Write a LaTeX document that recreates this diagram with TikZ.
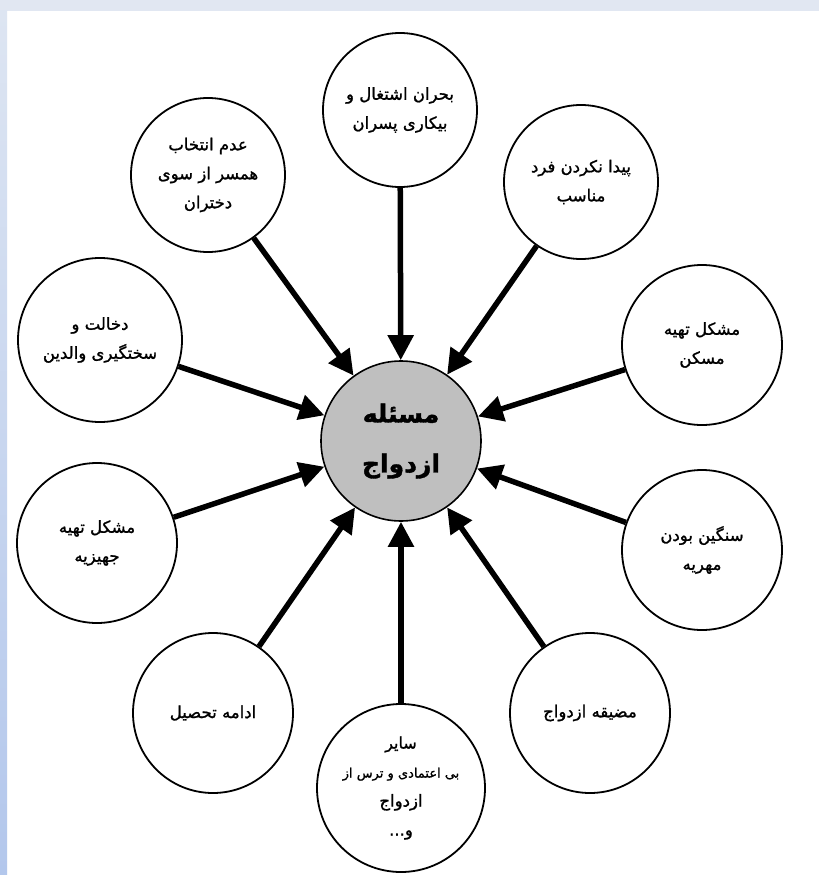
\documentclass[tikz,border=0pt]{standalone}
\usepackage{fontspec}
\newfontfamily\fa[Script=Arabic,FakeBold=1.2]{DejaVu Sans}
\newfontfamily\fahub[Script=Arabic,FakeBold=1.5]{DejaVu Sans Bold}
\TeXXeTstate=1
\usetikzlibrary{arrows.meta}
\newcommand{\rl}[1]{\beginR#1\endR}
\definecolor{bandtop}{HTML}{E1E7F2}
\definecolor{bandleftA}{HTML}{DDE5F2}
\definecolor{bandleftB}{HTML}{B3C7EC}
\definecolor{hubfill}{HTML}{BFBFBF}
\begin{document}
\begin{tikzpicture}[x=1pt,y=-1pt,
  cause/.style={circle,draw=black,line width=1.8pt,fill=white,minimum size=#1,inner sep=0pt,
    align=center,font=\fa\fontsize{16.5}{29}\selectfont},
  cause/.default=158pt,
  hub/.style={circle,draw=black,line width=1.6pt,fill=hubfill,minimum size=160pt,inner sep=0pt,
    align=center,font=\fahub\fontsize{25}{50}\selectfont},
  push/.style={line width=5.5pt,-{Triangle[length=25pt,width=25pt]}}]
  % page frame
  \useasboundingbox (0,0) rectangle (819,875);
  \fill[white] (0,0) rectangle (819,875);
  \fill[bandtop] (0,0) rectangle (819,11);
  \shade[top color=bandleftA,bottom color=bandleftB] (0,11) rectangle (7,875);

  % central problem
  \node[hub] (hub) at (401,441) {\rl{مسئله}\\\rl{ازدواج}};

  % surrounding causes
  \node[cause=154pt] (t)  at (400,110) {\rl{بحران اشتغال و}\\\rl{بیکاری پسران}};
  \node[cause=154pt] (tl) at (208,175) {\rl{عدم انتخاب}\\\rl{همسر از سوی}\\\rl{دختران}};
  \node[cause=154pt] (tr) at (581,182) {\rl{پیدا نکردن فرد}\\\rl{مناسب}};
  \node[cause=164pt] (l)  at (100,340) {\rl{دخالت و}\\\rl{سختگیری والدین}};
  \node[cause=160pt] (r)  at (702,345) {\rl{مشکل تهیه}\\\rl{مسکن}};
  \node[cause=160pt] (ll) at (97,543)  {\rl{مشکل تهیه}\\\rl{جهیزیه}};
  \node[cause=160pt] (rr) at (702,550) {\rl{سنگین بودن}\\\rl{مهریه}};
  \node[cause=160pt] (bl) at (213,713) {\rl{ادامه تحصیل}};
  \node[cause=168pt] (b)  at (401,788) {\fontsize{16}{26}\selectfont\rl{سایر}\\
     \fontsize{13}{22}\selectfont\rl{بی اعتمادی و ترس از}\\\rl{ازدواج}\\\rl{و...}};
  \node[cause=160pt] (br) at (590,713) {\rl{مضیقه ازدواج}};

  % arrows into the hub
  \foreach \c in {t,tl,tr,l,r,ll,rr,bl,b,br}
    \draw[push] (\c) -- (hub);
\end{tikzpicture}
\end{document}
